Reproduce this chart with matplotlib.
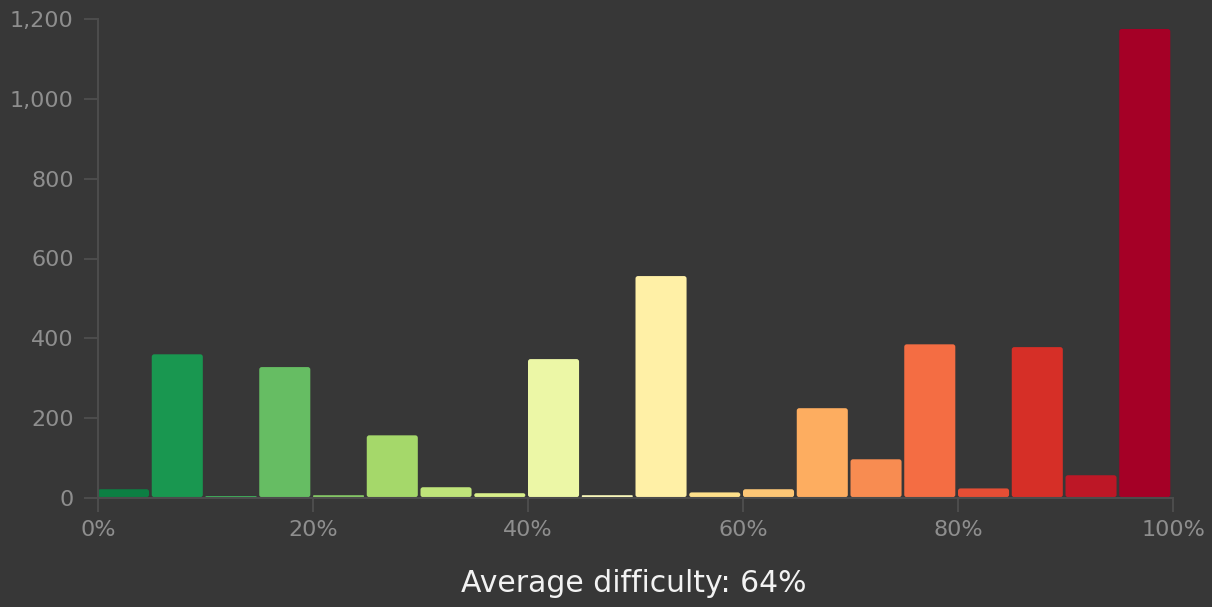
import matplotlib
matplotlib.use("Agg")
import matplotlib.pyplot as plt
from matplotlib.patches import FancyBboxPatch

# difficulty buckets (left edge, %) and counts
bin_starts = [0, 5, 10, 15, 20, 25, 30, 35, 40, 45, 50, 55, 60, 65, 70, 75, 80, 85, 90, 95]
counts = [20, 358, 3, 326, 5, 155, 25, 10, 346, 5, 554, 12, 20, 223, 95, 383, 22, 376, 55, 1173]
average = 64

bg = "#373737"
tick_color = "#8e8e8e"
spine_color = "#4c4c4c"

plt.rcParams["font.family"] = "DejaVu Sans"

W, H = 1212, 607
fig = plt.figure(figsize=(W / 100, H / 100), dpi=100, facecolor=bg)
ax = fig.add_axes([98 / W, 1 - 498 / H, (1173 - 98) / W, (498 - 19) / H])
ax.set_facecolor(bg)
ax.set_xlim(0, 100)
ax.set_ylim(0, 1200)

# each bucket coloured by its upper edge on the reversed red-yellow-green scale
cmap = plt.get_cmap("RdYlGn_r")
colors = [cmap((s + 5) / 100) for s in bin_starts]

bars = ax.bar(bin_starts, counts, width=4.75, align="edge", bottom=2, color=colors)

# swap the plain rectangles for rounded ones
px_x = 100 / (1173 - 98)      # data units per pixel, x
px_y = 1200 / (498 - 19)      # data units per pixel, y
for rect, c in zip(bars.patches, colors):
    x, y = rect.get_x(), rect.get_y()
    w, h = rect.get_width(), rect.get_height()
    rect.set_visible(False)
    r = min(2.5 * px_x, 0.5 * h / (px_y / px_x))
    ax.add_patch(FancyBboxPatch((x, y), w, h, boxstyle=f"round,pad=0,rounding_size={r}",
                                mutation_aspect=px_y / px_x, facecolor=c, edgecolor="none"))

ax.set_xticks(range(0, 101, 20))
ax.set_xticklabels([f"{v}%" for v in range(0, 101, 20)])
ax.set_yticks(range(0, 1201, 200))
ax.set_yticklabels([f"{v:,}" for v in range(0, 1201, 200)])

for side in ["top", "right"]:
    ax.spines[side].set_visible(False)
for side in ["left", "bottom"]:
    ax.spines[side].set_color(spine_color)
    ax.spines[side].set_linewidth(1.5)

ax.tick_params(axis="both", colors=spine_color, labelcolor=tick_color, labelsize=16,
               length=10, width=1.5)
ax.tick_params(axis="y", pad=7.5)
ax.tick_params(axis="x", pad=6)

fig.text(634 / W, 1 - 584 / H, f"Average difficulty: {average}%", color="#f2f2f2",
         fontsize=21.5, ha="center", va="center")

fig.savefig("out.png", dpi=100, facecolor=bg)
